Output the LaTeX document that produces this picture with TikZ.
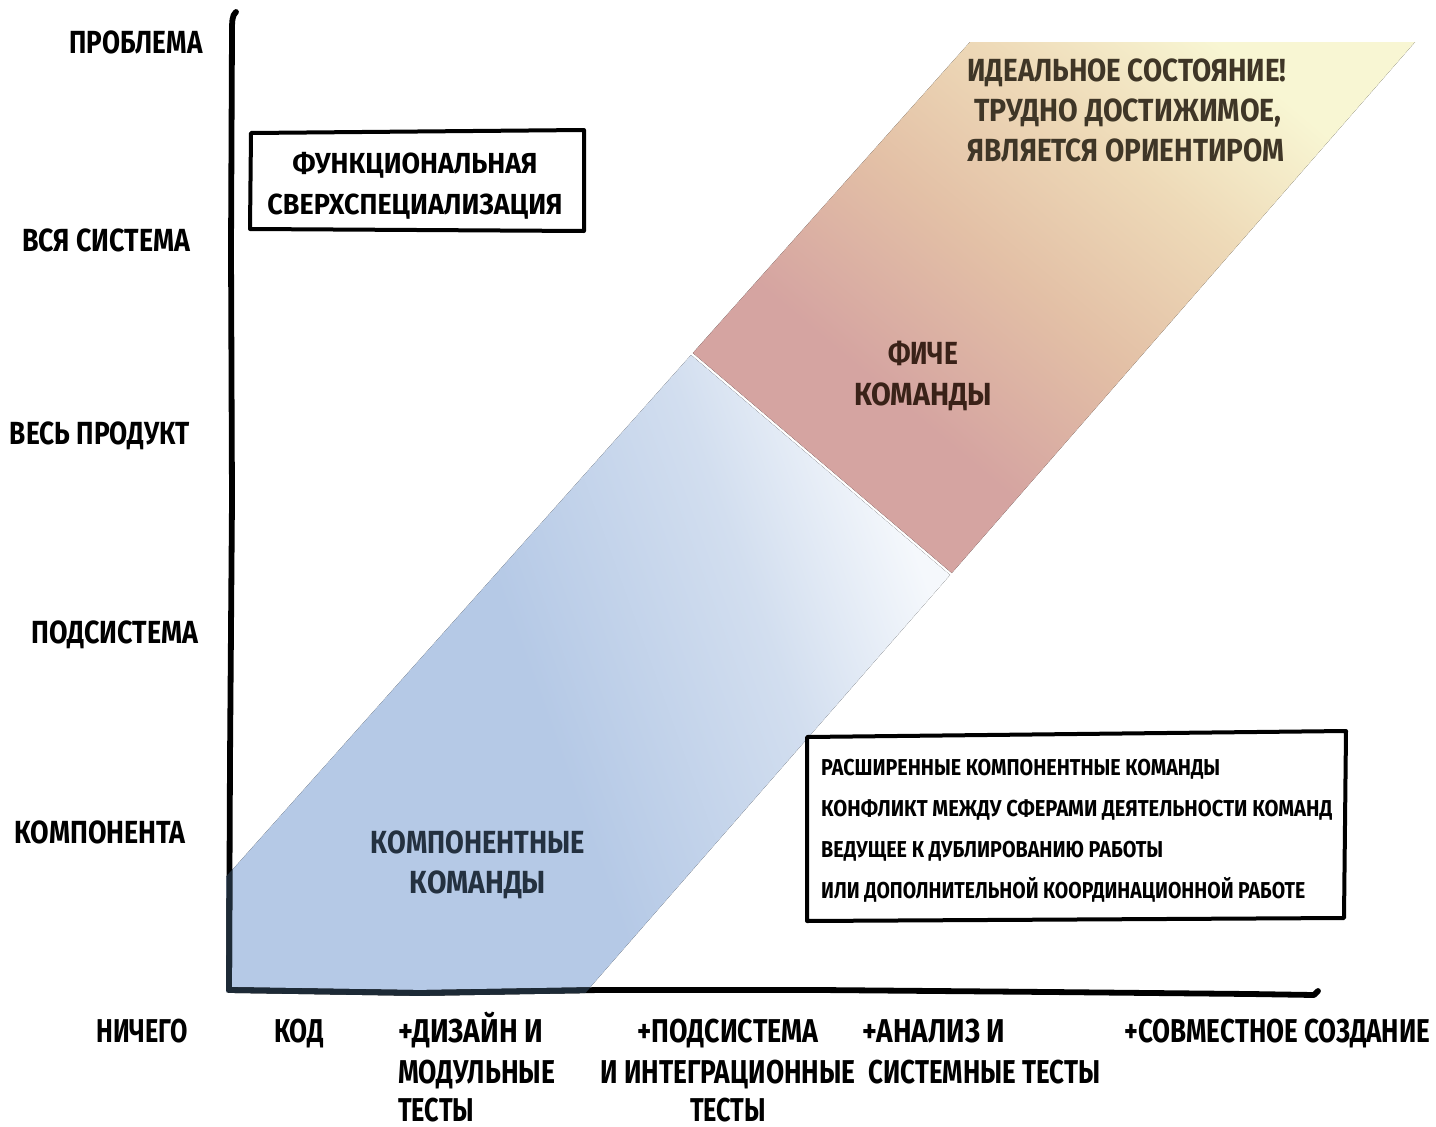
\documentclass[tikz,border=0pt]{standalone}
\usepackage{fontspec}
\setmainfont{Fira Sans}
\usepackage{graphicx}
\newcommand{\fw}[2]{\resizebox{#1}{\height}{#2}}
\definecolor{bandBlue}{HTML}{B5C9E6}
\definecolor{blueMid}{HTML}{D2DEEF}
\definecolor{blueLight}{HTML}{F5F8FC}
\definecolor{pinkA}{HTML}{D5A4A1}
\definecolor{tanB}{HTML}{E3C0A6}
\definecolor{beigeC}{HTML}{EEDAB8}
\definecolor{yellowD}{HTML}{F8F6D3}
\definecolor{slateAxis}{HTML}{1D2A36}
\definecolor{compText}{HTML}{243140}
\definecolor{featText}{HTML}{3A2218}
\definecolor{idealText}{HTML}{3F3627}
\pgfdeclarehorizontalshading{blueband}{100bp}{color(0bp)=(bandBlue); color(25bp)=(bandBlue); color(46bp)=(bandBlue); color(63bp)=(blueMid); color(75bp)=(blueLight); color(100bp)=(blueLight)}
\pgfdeclarehorizontalshading{pinkband}{100bp}{color(0bp)=(pinkA); color(25bp)=(pinkA); color(36bp)=(pinkA); color(50bp)=(tanB); color(63bp)=(beigeC); color(75bp)=(yellowD); color(100bp)=(yellowD)}
\begin{document}
\begin{tikzpicture}[x=1pt,y=-1pt,
  axisline/.style={line width=5.8pt, line cap=round, line join=round},
  handbox/.style={line width=4pt, line join=round, line cap=round},
  lab/.style={inner sep=0pt, anchor=base, font=\bfseries\fontsize{32}{38}\selectfont},
  xlab/.style={inner sep=0pt, anchor=base, font=\bfseries\fontsize{33}{38}\selectfont},
  xlabw/.style={xlab, anchor=base west},
  boxlab/.style={inner sep=0pt, anchor=base, font=\bfseries\fontsize{29}{35}\selectfont},
  notelab/.style={inner sep=0pt, anchor=base west, font=\bfseries\fontsize{23}{28}\selectfont},
]
\useasboundingbox (0,0) rectangle (1436,1127);
\fill[white] (0,0) rectangle (1436,1127);

% band
\coordinate (bA) at (226,877);
\coordinate (bB) at (691,355);
\coordinate (bC) at (950,575);
\coordinate (bD) at (586,992);
\coordinate (bE) at (226,992);
\fill[shading=blueband, shading angle=20] (bA) -- (bB) -- (bC) -- (bD) -- (bE) -- cycle;
\coordinate (pA) at (692.9,353);
\coordinate (pB) at (970,42);
\coordinate (pC) at (1415,42);
\coordinate (pD) at (951.8,573);
\fill[shading=pinkband, shading angle=50] (pA) -- (pB) -- (pC) -- (pD) -- cycle;

% axes
\coordinate (yTop) at (236,12);
\coordinate (origin) at (229,990);
\coordinate (xEnd) at (1318,991);
\draw[axisline] (yTop) .. controls (232,15) and (232,22) .. (232,32) -- (231,250) -- (232,500) -- (230,760) -- (origin) -- (420,993) -- (600,990) -- (820,990) -- (1050,992) -- (1250,994) -- (1314,995) -- (xEnd);
\begin{scope}
\clip (215,889) -- (bB) -- (bC) -- (575,1005) -- (215,1005) -- cycle;
\draw[axisline, slateAxis] (yTop) .. controls (232,15) and (232,22) .. (232,32) -- (231,250) -- (232,500) -- (230,760) -- (origin) -- (420,993) -- (600,990) -- (820,990);
\end{scope}

% y labels
\node[lab] (yProblem) at (136,53) {\fw{133pt}{ПРОБЛЕМА}};
\node[lab] (yWhole) at (106,251) {\fw{168pt}{ВСЯ СИСТЕМА}};
\node[lab] (yProduct) at (100,444) {\fw{180pt}{ВЕСЬ ПРОДУКТ}};
\node[lab] (ySub) at (115,643) {\fw{167pt}{ПОДСИСТЕМА}};
\node[lab] (yComp) at (100,843) {\fw{171pt}{КОМПОНЕНТА}};

% x labels
\node[xlab] (xNothing) at (142,1042) {\fw{91pt}{НИЧЕГО}};
\node[xlab] (xCode) at (299,1042) {\fw{50pt}{КОД}};
\node[xlabw] (xDesign1) at (398,1042) {\fw{145pt}{+ДИЗАЙН И}};
\node[xlabw] (xDesign2) at (398,1083) {\fw{157pt}{МОДУЛЬНЫЕ}};
\node[xlabw] (xDesign3) at (398,1121) {\fw{76pt}{ТЕСТЫ}};
\node[xlab] (xSub1) at (728,1042) {\fw{181pt}{+ПОДСИСТЕМА}};
\node[xlab] (xSub2) at (728,1083) {\fw{255pt}{И ИНТЕГРАЦИОННЫЕ}};
\node[xlab] (xSub3) at (728,1121) {\fw{76pt}{ТЕСТЫ}};
\node[xlabw] (xSys1) at (862,1042) {\fw{143pt}{+АНАЛИЗ И}};
\node[xlabw] (xSys2) at (868,1083) {\fw{232pt}{СИСТЕМНЫЕ ТЕСТЫ}};
\node[xlabw] (xJoint) at (1124,1042) {\fw{306pt}{+СОВМЕСТНОЕ СОЗДАНИЕ}};

% functional box
\draw[handbox] (251,133) -- (584,130) -- (584,231) -- (250,229) -- cycle;
\node[boxlab] (fs1) at (415,173) {\fw{245pt}{ФУНКЦИОНАЛЬНАЯ}};
\node[boxlab] (fs2) at (415,214) {\fw{295pt}{СВЕРХСПЕЦИАЛИЗАЦИЯ}};

% note box
\draw[handbox] (807,737) -- (1346,731) -- (1344,918) -- (807,921) -- cycle;
\node[notelab] (n1) at (821,775) {\fw{399pt}{РАСШИРЕННЫЕ КОМПОНЕНТНЫЕ КОМАНДЫ}};
\node[notelab] (n2) at (821,816) {\fw{511pt}{КОНФЛИКТ МЕЖДУ СФЕРАМИ ДЕЯТЕЛЬНОСТИ КОМАНД}};
\node[notelab] (n3) at (821,857) {\fw{342pt}{ВЕДУЩЕЕ К ДУБЛИРОВАНИЮ РАБОТЫ}};
\node[notelab] (n4) at (821,898) {\fw{484pt}{ИЛИ ДОПОЛНИТЕЛЬНОЙ КООРДИНАЦИОННОЙ РАБОТЕ}};

% band labels
\node[lab, text=compText] (ct1) at (478,853) {\fw{214pt}{КОМПОНЕНТНЫЕ}};
\node[lab, text=compText] (ct2) at (478,893) {\fw{136pt}{КОМАНДЫ}};
\node[lab, text=featText] (ft1) at (923,364) {\fw{70pt}{ФИЧЕ}};
\node[lab, text=featText] (ft2) at (923,405) {\fw{138pt}{КОМАНДЫ}};
\node[lab, text=idealText] (id1) at (1127,81) {\fw{319pt}{ИДЕАЛЬНОЕ СОСТОЯНИЕ!}};
\node[lab, text=idealText] (id2) at (1128,121) {\fw{307pt}{ТРУДНО ДОСТИЖИМОЕ,}};
\node[lab, text=idealText] (id3) at (1126,161) {\fw{317pt}{ЯВЛЯЕТСЯ ОРИЕНТИРОМ}};
\end{tikzpicture}
\end{document}
